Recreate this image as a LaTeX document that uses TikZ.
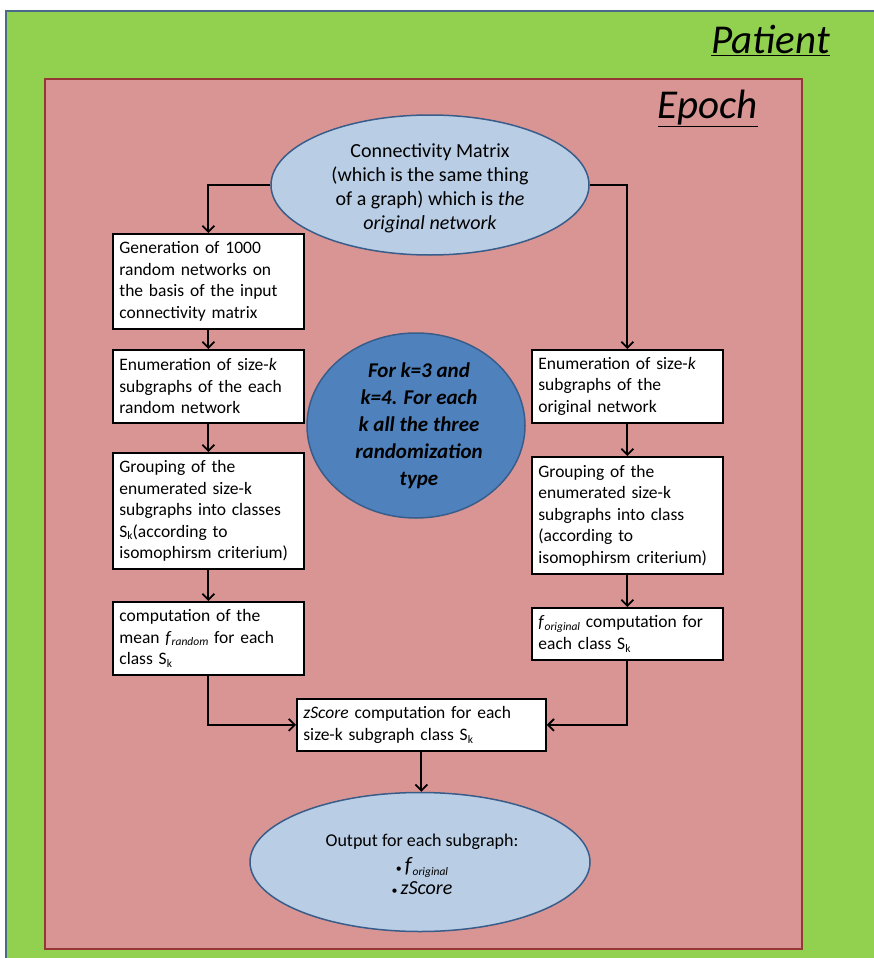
\documentclass[tikz,border=0pt]{standalone}
\usepackage{fontspec}
\setmainfont{Carlito}
\usetikzlibrary{arrows.meta,shapes.geometric}
\definecolor{patientgreen}{HTML}{92D050}
\definecolor{epochred}{HTML}{D99594}
\definecolor{epochline}{HTML}{953735}
\definecolor{frameline}{HTML}{4A6A8A}
\definecolor{lightblue}{HTML}{B9CDE5}
\definecolor{midblue}{HTML}{4F81BD}
\definecolor{blueline}{HTML}{385D8A}
\newcommand\lowsub[1]{\raisebox{-0.35ex}{\fontsize{11.5}{12}\selectfont\itshape #1}}
\newcommand\ksub{\raisebox{-0.35ex}{\fontsize{11.5}{12}\selectfont k}}
\hyphenpenalty=10000
\exhyphenpenalty=10000
\begin{document}
\begin{tikzpicture}[x=1pt,y=-1pt,
  stepbox/.style={draw=black,fill=white,line width=1.8pt,anchor=north west,
    inner xsep=6.5pt,inner ysep=2pt,align=left,font=\fontsize{17.5}{21.5}\selectfont},
  oval/.style={ellipse,draw=blueline,line width=1.5pt,inner sep=0pt},
  ovaltext/.style={align=center,inner sep=0pt},
  arr/.style={draw=black,line width=2pt,-{Straight Barb[length=6pt,width=12pt,line width=1.8pt]}},
  title/.style={anchor=base east,inner sep=0pt,font=\fontsize{41}{43}\selectfont\itshape}]
\useasboundingbox (0,0) rectangle (873,958);
\fill[white] (0,0) rectangle (873,958);
% outer patient frame
\filldraw[fill=patientgreen,draw=frameline,line width=1.2pt] (6,11) rectangle (880,965);
\node[title] (patient) at (830,53) {\underline{Patient}};
% epoch frame
\filldraw[fill=epochred,draw=epochline,line width=1.4pt] (45,79) rectangle (802,949);
\node[title] (epoch) at (758,118) {\underline{Epoch}};

% connectivity matrix
\node[oval,fill=lightblue,minimum width=318,minimum height=140] (cm) at (430,185) {};
\node[ovaltext,font=\fontsize{20}{24}\selectfont] (cmtext) at (430,188)
  {Connectivity Matrix\\(which is the same thing\\of a graph) which is \textit{the}\\\textit{original network}};

% left column
\node[stepbox,text width=178,minimum height=95] (b1) at (112,233)
  {Generation of 1000\\random networks on\\the basis of the input\\connectivity matrix};
\node[stepbox,text width=178,minimum height=73] (b2) at (112,349)
  {Enumeration of size-\textit{k}\\subgraphs of the each\\random network};
\node[stepbox,text width=178,minimum height=116] (b3) at (112,452)
  {Grouping of the\\enumerated size-k\\subgraphs into classes\\S\ksub(according to\\isomophirsm criterium)};
\node[stepbox,text width=178,minimum height=73] (b4) at (112,601)
  {computation of the\\mean \textit{f}\lowsub{random} for each\\class S\ksub};

% right column
\node[stepbox,text width=178,minimum height=73] (r1) at (531,349)
  {Enumeration of size-\textit{k}\\subgraphs of the\\original network};
\node[stepbox,text width=178,minimum height=117] (r2) at (531,456)
  {Grouping of the\\enumerated size-k\\subgraphs into class\\(according to\\isomophirsm criterium)};
\node[stepbox,text width=178,minimum height=52] (r3) at (531,607)
  {\textit{f}\lowsub{original} computation for\\each class S\ksub};

% central note
\node[oval,fill=midblue,minimum width=218,minimum height=185] (note) at (416,425.5) {};
\node[ovaltext,font=\fontsize{21}{27}\selectfont\bfseries\itshape] (notetext) at (419,426)
  {For k=3 and\\k=4. For each\\k all the three\\randomization\\type};

% z-score and output
\node[stepbox,text width=236,minimum height=52] (z) at (296,698)
  {\textit{zScore} computation for each\\size-k subgraph class S\ksub};
\node[oval,fill=lightblue,minimum width=340,minimum height=139] (out) at (420,862) {};
\node[ovaltext,font=\fontsize{18}{26}\selectfont] (outtext) at (422,864)
  {Output for each subgraph:\\
   {\fontsize{12}{12}\selectfont\textbullet}\,{\fontsize{22}{22}\selectfont\textit{f}}\lowsub{original}\\[-4pt]
   {\fontsize{12}{12}\selectfont\textbullet}\,{\fontsize{20}{22}\selectfont\textit{zScore}}};

% connectors
\draw[arr] (cm.west) -| (b1.north);
\draw[arr] (cm.east) -| (r1.north);
\draw[arr] (b1.south) -- (b2.north);
\draw[arr] (b2.south) -- (b3.north);
\draw[arr] (b3.south) -- (b4.north);
\draw[arr] (r1.south) -- (r2.north);
\draw[arr] (r2.south) -- (r3.north);
\draw[arr] (b4.south) |- (z.west);
\draw[arr] (r3.south) |- (z.east);
\draw[arr] (z.south) -- (z.south |- out.north);
\end{tikzpicture}
\end{document}
